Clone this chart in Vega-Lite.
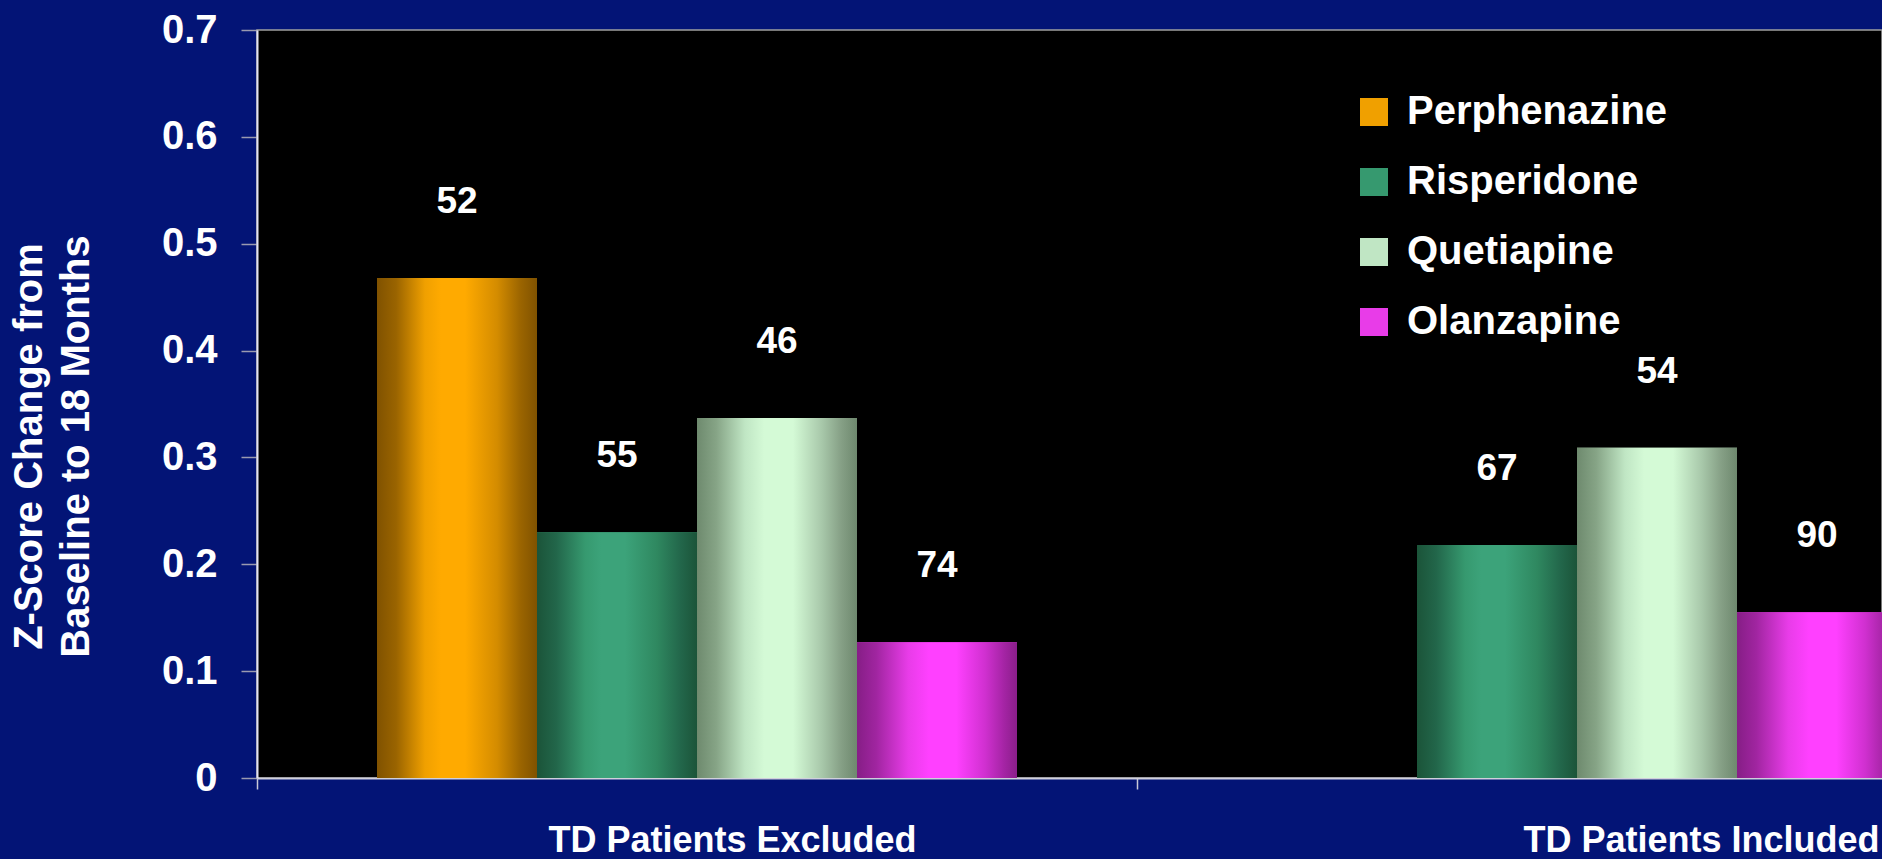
{
  "$schema": "https://vega.github.io/schema/vega-lite/v6.json",
  "autosize": "none",
  "width": 1625,
  "height": 748,
  "padding": {"left": 257, "top": 30, "right": 0, "bottom": 81},
  "background": "#031476",
  "config": {
    "view": {"fill": "#000000", "stroke": "#a0a0a0", "strokeWidth": 1.5},
    "font": "Liberation Sans"
  },
  "data": {
    "values": [
      {"group": "TD Patients Excluded", "drug": "Perphenazine", "z": 0.468, "n": 52},
      {"group": "TD Patients Excluded", "drug": "Risperidone", "z": 0.230, "n": 55},
      {"group": "TD Patients Excluded", "drug": "Quetiapine", "z": 0.337, "n": 46},
      {"group": "TD Patients Excluded", "drug": "Olanzapine", "z": 0.127, "n": 74},
      {"group": "TD Patients Included", "drug": "Risperidone", "z": 0.218, "n": 67},
      {"group": "TD Patients Included", "drug": "Quetiapine", "z": 0.309, "n": 54},
      {"group": "TD Patients Included", "drug": "Olanzapine", "z": 0.155, "n": 90}
    ]
  },
  "encoding": {
    "x": {
      "field": "group",
      "type": "nominal",
      "sort": ["TD Patients Excluded", "TD Patients Included"],
      "scale": {"range": [0, 1760], "paddingInner": 0, "paddingOuter": 0},
      "axis": {
        "title": null,
        "labelAngle": 0,
        "labelFont": "Liberation Sans",
        "labelFontSize": 36,
        "labelFontWeight": "bold",
        "labelColor": "#ffffff",
        "labelBaseline": "alphabetic",
        "labelPadding": 62,
        "labelLimit": 600,
        "labelOffset": {"condition": {"test": "datum.value == 'TD Patients Included'", "value": 124}, "value": 35},
        "tickBand": "extent",
        "tickSize": 11,
        "tickColor": "#c8c8d8",
        "tickWidth": 1.5,
        "domainColor": "#d0d0dc",
        "domainWidth": 2,
        "grid": false
      }
    },
    "xOffset": {
      "field": "drug",
      "type": "nominal",
      "sort": ["Perphenazine", "Risperidone", "Quetiapine", "Olanzapine"],
      "scale": {"paddingInner": 0, "paddingOuter": 0.75}
    },
    "y": {
      "field": "z",
      "type": "quantitative",
      "scale": {"domain": [0, 0.7], "nice": false},
      "axis": {
        "title": ["Z-Score Change from", "Baseline to 18 Months"],
        "titleFont": "Liberation Sans",
        "titleFontSize": 40,
        "titleFontWeight": "bold",
        "titleColor": "#ffffff",
        "titleLineHeight": 47,
        "titleAngle": -90,
        "titleAlign": "center",
        "titleBaseline": "middle",
        "titleX": -228,
        "titleY": 416,
        "values": [0, 0.1, 0.2, 0.3, 0.4, 0.5, 0.6, 0.7],
        "labelExpr": "datum.value == 0 ? '0' : format(datum.value, '.1f')",
        "labelFont": "Liberation Sans",
        "labelFontSize": 40,
        "labelFontWeight": "bold",
        "labelColor": "#ffffff",
        "labelPadding": 24,
        "tickSize": 16,
        "tickColor": "#9a9ab0",
        "tickWidth": 1.5,
        "domainColor": "#e4e4f4",
        "domainWidth": 2,
        "grid": false
      }
    }
  },
  "layer": [
    {
      "mark": {"type": "bar", "strokeWidth": 0},
      "encoding": {
        "color": {
          "field": "drug",
          "type": "nominal",
          "scale": {
            "domain": ["Perphenazine", "Risperidone", "Quetiapine", "Olanzapine"],
            "range": ["#f0a000", "#36996f", "#c0e6c4", "#e83ce8"]
          },
          "legend": {
            "title": null,
            "orient": "none",
            "legendX": 1097,
            "legendY": 62,
            "symbolType": "square",
            "symbolSize": 784,
            "symbolStrokeWidth": 0,
            "symbolOpacity": 1,
            "labelFont": "Liberation Sans",
            "labelFontSize": 40,
            "labelFontWeight": "bold",
            "labelColor": "#ffffff",
            "labelOffset": 13,
            "labelLimit": 600,
            "rowPadding": 30
          }
        }
      }
    },
    {
      "transform": [{"filter": "datum.drug == 'Perphenazine'"}],
      "mark": {"type": "bar", "strokeWidth": 0, "color": {"gradient": "linear", "x1": 0, "y1": 0, "x2": 1, "y2": 0, "stops": [
        {"offset": 0, "color": "#805200"}, {"offset": 0.12, "color": "#9a6400"},
        {"offset": 0.3, "color": "#f0a000"}, {"offset": 0.4, "color": "#ffaa00"},
        {"offset": 0.55, "color": "#ffaa00"}, {"offset": 0.75, "color": "#d48c00"},
        {"offset": 0.9, "color": "#9a6400"}, {"offset": 1, "color": "#805200"}]}},
      "encoding": {}
    },
    {
      "transform": [{"filter": "datum.drug == 'Risperidone'"}],
      "mark": {"type": "bar", "strokeWidth": 0, "color": {"gradient": "linear", "x1": 0, "y1": 0, "x2": 1, "y2": 0, "stops": [
        {"offset": 0, "color": "#1b5439"}, {"offset": 0.12, "color": "#22664a"},
        {"offset": 0.3, "color": "#36996f"}, {"offset": 0.4, "color": "#3ca37a"},
        {"offset": 0.55, "color": "#3ca37a"}, {"offset": 0.75, "color": "#2f8860"},
        {"offset": 0.9, "color": "#22664a"}, {"offset": 1, "color": "#1b5439"}]}},
      "encoding": {}
    },
    {
      "transform": [{"filter": "datum.drug == 'Quetiapine'"}],
      "mark": {"type": "bar", "strokeWidth": 0, "color": {"gradient": "linear", "x1": 0, "y1": 0, "x2": 1, "y2": 0, "stops": [
        {"offset": 0, "color": "#6e8a6e"}, {"offset": 0.12, "color": "#86a486"},
        {"offset": 0.3, "color": "#c0e6c4"}, {"offset": 0.42, "color": "#d4fad6"},
        {"offset": 0.6, "color": "#d4fad6"}, {"offset": 0.78, "color": "#a8c8aa"},
        {"offset": 0.9, "color": "#86a086"}, {"offset": 1, "color": "#6e886e"}]}},
      "encoding": {}
    },
    {
      "transform": [{"filter": "datum.drug == 'Olanzapine'"}],
      "mark": {"type": "bar", "strokeWidth": 0, "color": {"gradient": "linear", "x1": 0, "y1": 0, "x2": 1, "y2": 0, "stops": [
        {"offset": 0, "color": "#861e86"}, {"offset": 0.12, "color": "#a025a0"},
        {"offset": 0.32, "color": "#e83ce8"}, {"offset": 0.45, "color": "#ff40ff"},
        {"offset": 0.62, "color": "#ff40ff"}, {"offset": 0.8, "color": "#d030d0"},
        {"offset": 0.92, "color": "#a424a4"}, {"offset": 1, "color": "#8a1e8a"}]}},
      "encoding": {}
    },
    {
      "mark": {
        "type": "text",
        "font": "Liberation Sans",
        "fontSize": 37,
        "fontWeight": "bold",
        "color": "#ffffff",
        "baseline": "middle",
        "align": "center",
        "dy": -76
      },
      "encoding": {
        "text": {"field": "n", "type": "quantitative"}
      }
    }
  ]
}
